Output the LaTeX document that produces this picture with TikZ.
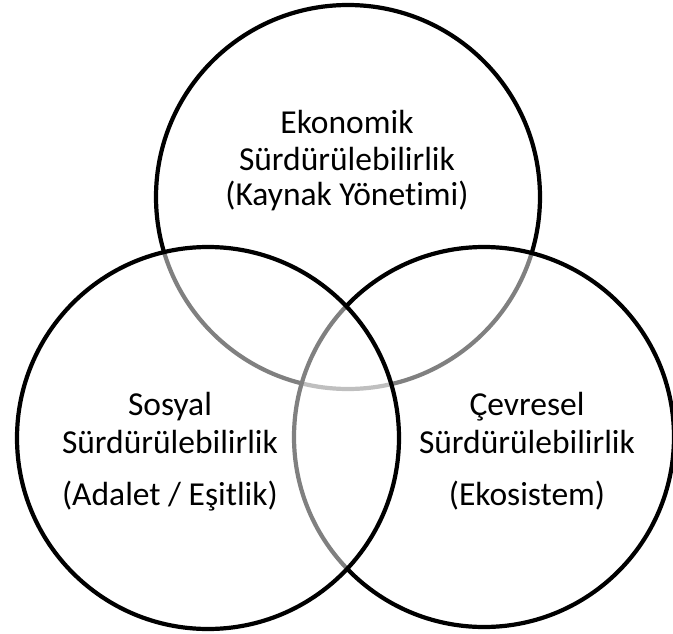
\documentclass[tikz,border=0pt]{standalone}
\usepackage{fontspec}
\setmainfont{Carlito}[Ligatures={NoCommon,NoContextual}]
\begin{document}
\begin{tikzpicture}[x=1pt,y=-1pt,
  venn/.style={line width=4.2pt, draw=black, fill=white, fill opacity=0.5, draw opacity=1},
  lbl/.style={anchor=base, inner sep=0pt, font=\fontsize{33.5}{40}\selectfont, text=black}]
\useasboundingbox (0,0) rectangle (673,634);
\clip (0,0) rectangle (673,634);
\fill[white] (0,0) rectangle (673,634);
\draw[venn] (348,197) circle[radius=192pt];
\draw[venn] (484,437) circle[radius=190pt];
\draw[venn] (208,438) circle[radius=191pt];
\node[lbl] (e1) at (347,133) {Ekonomik};
\node[lbl] (e2) at (347,170) {Sürdürülebilirlik};
\node[lbl] (e3) at (347,205) {(Kaynak Yönetimi)};
\node[lbl] (s1) at (170,415) {Sosyal};
\node[lbl] (s2) at (170,453) {Sürdürülebilirlik};
\node[lbl] (s3) at (170,505) {(Adalet / Eşitlik)};
\node[lbl] (c1) at (527,415) {Çevresel};
\node[lbl] (c2) at (527,453) {Sürdürülebilirlik};
\node[lbl] (c3) at (527,505) {(Ekosistem)};
\end{tikzpicture}
\end{document}
